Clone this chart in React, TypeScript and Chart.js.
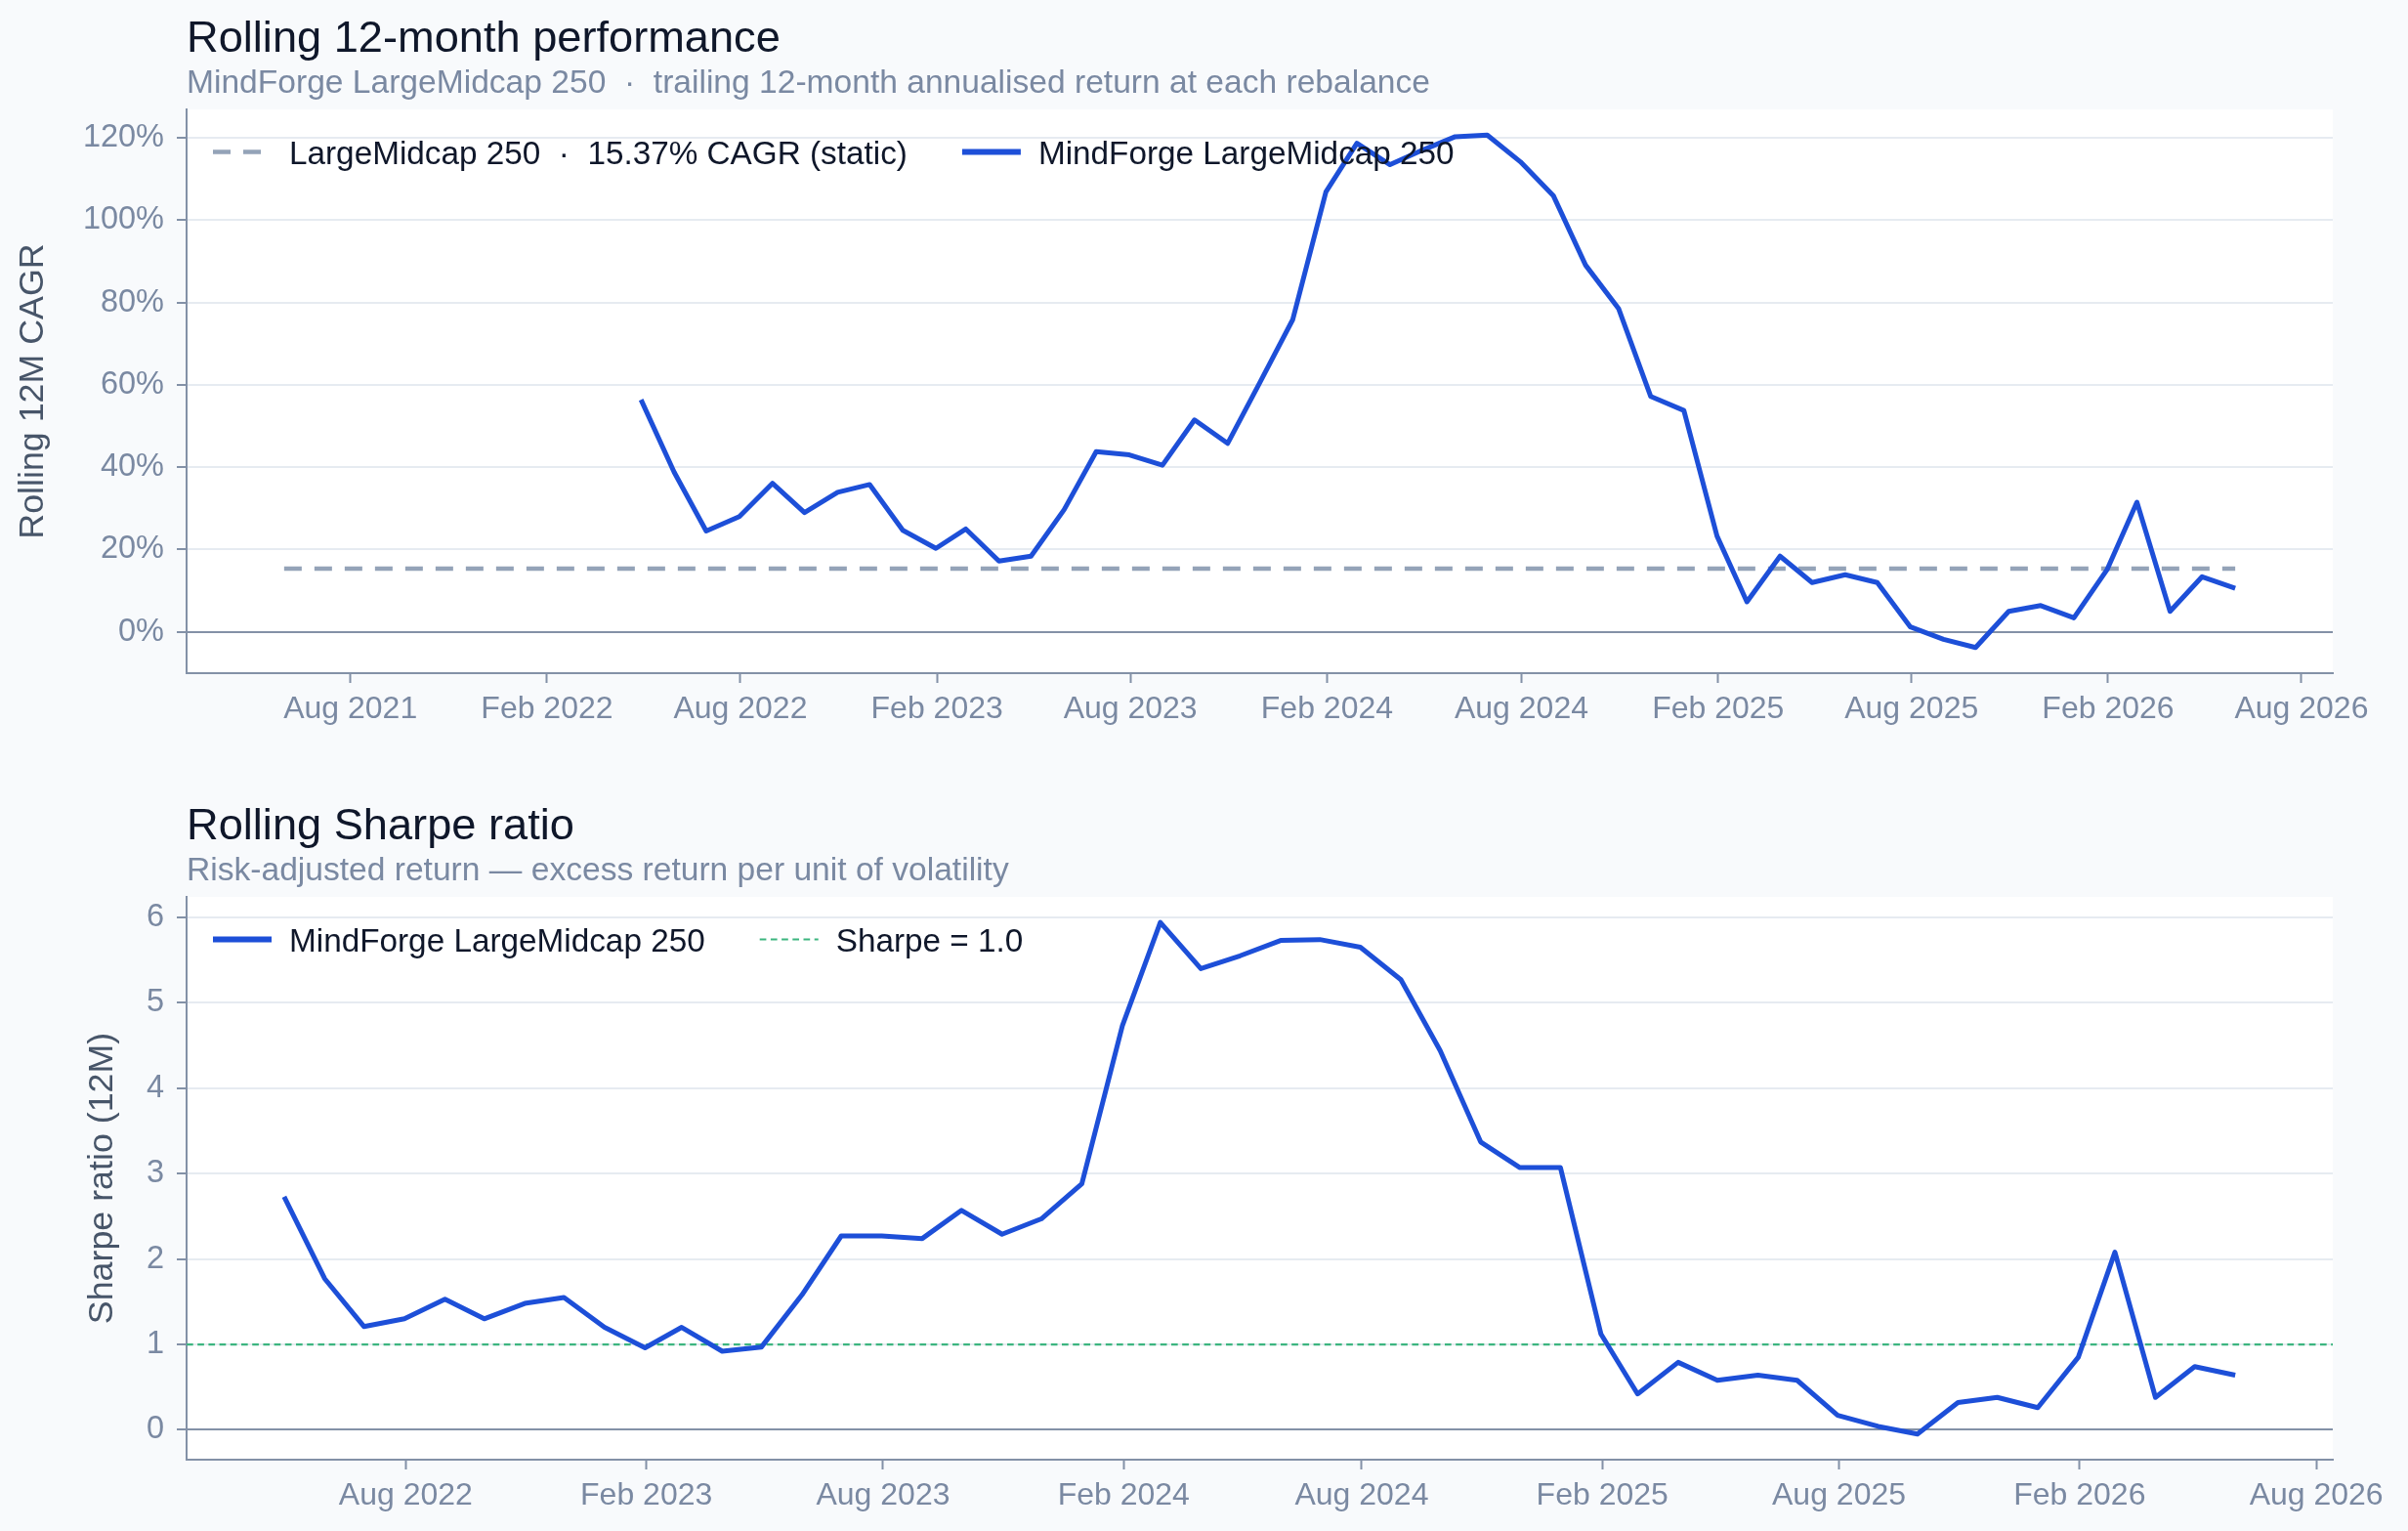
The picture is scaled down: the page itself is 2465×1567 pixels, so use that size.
import { useEffect, useRef } from 'react';
import { Chart, registerables } from 'chart.js';

Chart.register(...registerables);

const MONTHS = ['Jan', 'Feb', 'Mar', 'Apr', 'May', 'Jun', 'Jul', 'Aug', 'Sep', 'Oct', 'Nov', 'Dec'];

// Rebalance dates (month ends)
const rebalanceMonths = [
  '2022-04', '2022-05', '2022-06', '2022-07', '2022-08', '2022-09', '2022-10', '2022-11', '2022-12',
  '2023-01', '2023-02', '2023-03', '2023-04', '2023-05', '2023-06', '2023-07', '2023-08', '2023-09', '2023-10', '2023-11', '2023-12',
  '2024-01', '2024-02', '2024-03', '2024-04', '2024-05', '2024-06', '2024-07', '2024-08', '2024-09', '2024-10', '2024-11', '2024-12',
  '2025-01', '2025-02', '2025-03', '2025-04', '2025-05', '2025-06', '2025-07', '2025-08', '2025-09', '2025-10', '2025-11', '2025-12',
  '2026-01', '2026-02', '2026-03', '2026-04', '2026-05',
];

// Trailing 12-month annualised return, %
const rollingCagrPct = [
  56.4, 38.8, 24.5, 28.0, 36.1, 29.0, 33.9, 35.8, 24.7,
  20.3, 25.0, 17.2, 18.4, 29.7, 43.8, 43.0, 40.5, 51.5, 45.8, 60.5, 75.9,
  106.9, 118.7, 113.5, 117.0, 120.3, 120.7, 114.2, 105.9, 89.1, 78.5, 57.2, 53.8,
  23.3, 7.3, 18.4, 12.0, 13.9, 12.0, 1.2, -1.8, -3.8, 5.0, 6.4, 3.4,
  15.1, 31.5, 5.0, 13.4, 10.6,
];

// Rolling 12-month Sharpe ratio
const rollingSharpe = [
  2.73, 1.77, 1.21, 1.30, 1.53, 1.30, 1.48, 1.55, 1.20,
  0.96, 1.20, 0.92, 0.97, 1.58, 2.27, 2.27, 2.24, 2.57, 2.29, 2.47, 2.88,
  4.73, 5.94, 5.40, 5.55, 5.73, 5.74, 5.65, 5.27, 4.44, 3.37, 3.07, 3.07,
  1.12, 0.42, 0.79, 0.58, 0.64, 0.58, 0.17, 0.04, -0.05, 0.32, 0.38, 0.26,
  0.85, 2.08, 0.38, 0.74, 0.64,
];

// Benchmark: static 5-year CAGR over its own window
const benchmarkCagrPct = 15.37;
const benchmarkMonths = ['2021-05', '2026-05'];
const sharpeReference = 1.0;

const cagrTickValues = [0, 20, 40, 60, 80, 100, 120];
const sharpeTickValues = [0, 1, 2, 3, 4, 5, 6];
const dateTickLabels = [
  'Aug 2021', 'Feb 2022', 'Aug 2022', 'Feb 2023', 'Aug 2023', 'Feb 2024',
  'Aug 2024', 'Feb 2025', 'Aug 2025', 'Feb 2026', 'Aug 2026',
];

const FONT = '"Liberation Sans", Arial, Helvetica, sans-serif';
const BLUE = '#1d4fd8';
const BENCH_GREY = '#94a3b8';
const REF_GREEN = '#3cb57f';
const AXIS = '#8391a7';
const GRID = '#e6ebf1';
const MUTED = '#7a89a2';
const AXIS_TITLE = '#475569';
const INK = '#0f172a';

const monthEnd = (ym: string) => {
  const [y, m] = ym.split('-').map(Number);
  return Date.UTC(y, m, 0);
};
const labelTime = (label: string) => {
  const [mon, y] = label.split(' ');
  return Date.UTC(Number(y), MONTHS.indexOf(mon), 1);
};
const padded = (values: number[], frac = 0.05) => {
  const lo = Math.min(...values);
  const hi = Math.max(...values);
  const pad = (hi - lo) * frac;
  return [lo - pad, hi + pad];
};

// Plot background, titles and the inset legend
const framePlugin = {
  id: 'frame',
  beforeDraw(chart: any) {
    const { ctx, chartArea: a } = chart;
    ctx.save();
    ctx.fillStyle = '#ffffff';
    ctx.fillRect(a.left, a.top, a.right - a.left, a.bottom - a.top);
    ctx.restore();
  },
  afterDraw(chart: any, _args: any, opts: any) {
    const { ctx, chartArea: a } = chart;
    ctx.save();
    ctx.textAlign = 'left';
    ctx.textBaseline = 'alphabetic';
    ctx.fillStyle = INK;
    ctx.font = `400 45.2px ${FONT}`;
    ctx.fillText(opts.title, a.left, a.top - 59);
    ctx.fillStyle = MUTED;
    ctx.font = `400 33.6px ${FONT}`;
    ctx.fillText(opts.subtitle, a.left, a.top - 17);

    const cy = a.top + 43.5;
    let x = a.left + 27;
    ctx.font = `400 33.3px ${FONT}`;
    for (const ds of chart.data.datasets) {
      ctx.save();
      ctx.strokeStyle = ds.borderColor;
      ctx.lineWidth = ds.legendWidth;
      ctx.setLineDash(ds.borderDash || []);
      ctx.beginPath();
      ctx.moveTo(x, cy);
      ctx.lineTo(x + 60, cy);
      ctx.stroke();
      ctx.restore();
      ctx.fillStyle = INK;
      ctx.fillText(ds.label, x + 78, cy + 12);
      x += 78 + ctx.measureText(ds.label).width + 56;
    }
    ctx.restore();
  },
};

type PanelSpec = {
  title: string;
  subtitle: string;
  datasets: any[];
  xRange: number[];
  yRange: number[];
  yTicks: number[];
  yFormat: (v: number) => string;
  yTitle: string;
  yTitlePad: number;
  topPad: number;
  xAxisHeight: number;
};

function buildChart(canvas: HTMLCanvasElement, spec: PanelSpec) {
  const xTicks = dateTickLabels
    .map((label) => ({ label, value: labelTime(label) }))
    .filter((t) => t.value >= spec.xRange[0] && t.value <= spec.xRange[1]);
  const xLabelOf = new Map(xTicks.map((t) => [t.value, t.label]));

  return new Chart(canvas, {
    type: 'line',
    data: { datasets: spec.datasets },
    plugins: [framePlugin],
    options: {
      responsive: false,
      animation: false,
      devicePixelRatio: 1,
      events: [],
      layout: { padding: { top: spec.topPad, right: 77, bottom: 0, left: 0 } },
      elements: { point: { radius: 0 }, line: { tension: 0 } },
      plugins: {
        legend: { display: false },
        tooltip: { enabled: false },
        frame: { title: spec.title, subtitle: spec.subtitle },
      } as any,
      scales: {
        x: {
          type: 'linear',
          min: spec.xRange[0],
          max: spec.xRange[1],
          afterBuildTicks: (scale: any) => {
            scale.ticks = xTicks.map((t) => ({ value: t.value }));
          },
          afterFit: (scale: any) => {
            scale.height = spec.xAxisHeight;
          },
          ticks: {
            autoSkip: false,
            maxRotation: 0,
            padding: 8,
            color: MUTED,
            font: { family: FONT, size: 32 },
            callback: (v: any) => xLabelOf.get(Number(v)) ?? '',
          },
          grid: {
            display: true,
            drawOnChartArea: false,
            drawTicks: true,
            tickLength: 10,
            tickColor: AXIS,
            tickWidth: 2,
          },
          border: { display: true, color: AXIS, width: 2 },
        },
        y: {
          type: 'linear',
          min: spec.yRange[0],
          max: spec.yRange[1],
          afterBuildTicks: (scale: any) => {
            scale.ticks = spec.yTicks.map((v) => ({ value: v }));
          },
          afterFit: (scale: any) => {
            scale.width = 191;
          },
          ticks: {
            padding: 13,
            color: MUTED,
            font: { family: FONT, size: 32.5 },
            callback: (v: any) => spec.yFormat(Number(v)),
          },
          grid: {
            color: (c: any) => (c.tick && c.tick.value === 0 ? AXIS : GRID),
            lineWidth: 2,
            tickLength: 10,
            tickColor: AXIS,
            tickWidth: 2,
          },
          border: { display: true, color: AXIS, width: 2 },
          title: {
            display: true,
            text: spec.yTitle,
            color: AXIS_TITLE,
            font: { family: FONT, size: 35.8 },
            padding: { top: spec.yTitlePad, bottom: 0 },
          },
        },
      },
    } as any,
  });
}

export default function App() {
  const topRef = useRef<HTMLCanvasElement>(null);
  const bottomRef = useRef<HTMLCanvasElement>(null);

  useEffect(() => {
    const dates = rebalanceMonths.map(monthEnd);
    const benchDates = benchmarkMonths.map(monthEnd);

    const topX = padded([...dates, ...benchDates]);
    const bottomX = padded(dates);

    const top = buildChart(topRef.current!, {
      title: 'Rolling 12-month performance',
      subtitle: 'MindForge LargeMidcap 250  ·  trailing 12-month annualised return at each rebalance',
      datasets: [
        {
          label: 'LargeMidcap 250  ·  15.37% CAGR (static)',
          data: benchDates.map((x) => ({ x, y: benchmarkCagrPct })),
          borderColor: BENCH_GREY,
          borderWidth: 4.5,
          legendWidth: 4.5,
          borderDash: [18, 13],
          order: 1,
        },
        {
          label: 'MindForge LargeMidcap 250',
          data: dates.map((x, i) => ({ x, y: rollingCagrPct[i] })),
          borderColor: BLUE,
          borderWidth: 5,
          legendWidth: 6,
          borderJoinStyle: 'round',
          order: 0,
        },
      ],
      xRange: topX,
      yRange: padded(rollingCagrPct),
      yTicks: cagrTickValues,
      yFormat: (v) => `${v}%`,
      yTitle: 'Rolling 12M CAGR',
      yTitlePad: 13,
      topPad: 112,
      xAxisHeight: 101,
    });

    const bottom = buildChart(bottomRef.current!, {
      title: 'Rolling Sharpe ratio',
      subtitle: 'Risk-adjusted return — excess return per unit of volatility',
      datasets: [
        {
          label: 'MindForge LargeMidcap 250',
          data: dates.map((x, i) => ({ x, y: rollingSharpe[i] })),
          borderColor: BLUE,
          borderWidth: 5,
          legendWidth: 6,
          borderJoinStyle: 'round',
          order: 0,
        },
        {
          label: 'Sharpe = 1.0',
          data: bottomX.map((x) => ({ x, y: sharpeReference })),
          borderColor: REF_GREEN,
          borderWidth: 2.2,
          legendWidth: 2.2,
          borderDash: [6.7, 4.5],
          order: 1,
        },
      ],
      xRange: bottomX,
      yRange: padded(rollingSharpe),
      yTicks: sharpeTickValues,
      yFormat: (v) => String(v),
      yTitle: 'Sharpe ratio (12M)',
      yTitlePad: 84,
      topPad: 128,
      xAxisHeight: 73,
    });

    return () => {
      top.destroy();
      bottom.destroy();
    };
  }, []);

  return (
    <div
      style={{
        position: 'absolute',
        left: 0,
        top: 0,
        width: 2465,
        height: 1567,
        background: '#f8fafc',
        overflow: 'hidden',
      }}
    >
      <canvas ref={topRef} width={2465} height={790} style={{ display: 'block' }} />
      <canvas ref={bottomRef} width={2465} height={777} style={{ display: 'block' }} />
    </div>
  );
}
